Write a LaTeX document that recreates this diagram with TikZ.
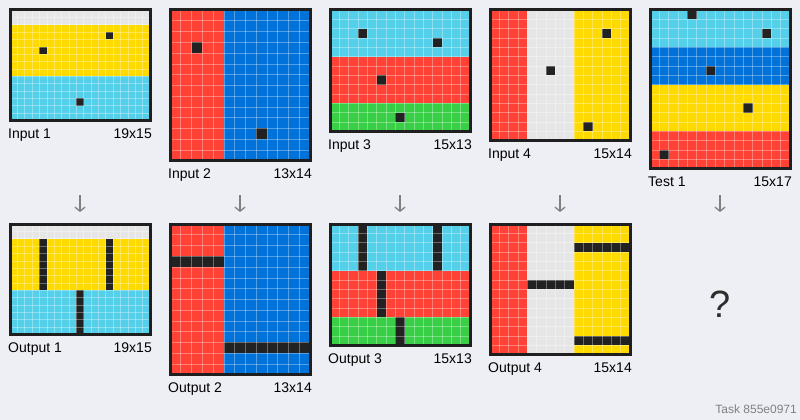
\documentclass[tikz,border=0pt]{standalone}
\usepackage{fontspec}
\setmainfont{Liberation Sans}
\usepackage{tikz}
\usetikzlibrary{arrows.meta}

\definecolor{pagebg}{HTML}{EEEEF5}
\definecolor{arcgray}{HTML}{E6E6E6}
\definecolor{arcyellow}{HTML}{FFDA00}
\definecolor{arccyan}{HTML}{55D0EB}
\definecolor{arcred}{HTML}{FF4136}
\definecolor{arcblue}{HTML}{0072D9}
\definecolor{arcgreen}{HTML}{38CF46}
\definecolor{arcblack}{HTML}{222222}

\begin{document}
\begin{tikzpicture}[x=1pt, y=-1pt,
    cellline/.style={white, opacity=0.32, line width=0.6pt},
    frame/.style={draw=arcblack!90!black, line width=3pt},
    lbl/.style={inner sep=0pt, font=\fontsize{14}{16}\selectfont},
    flow/.style={draw=gray, line width=1.3pt, -{Straight Barb[length=4pt,width=10pt]}}]
  \useasboundingbox[fill=pagebg] (0,0) rectangle (800,420);

  % Input 1
  \begin{scope}[shift={(10,10)}, x=7.3684pt, y=-7.3684pt]
    \fill[arcgray] (0,0) rectangle (19,2);
    \fill[arcyellow] (0,2) rectangle (19,9);
    \fill[arccyan] (0,9) rectangle (19,15);
    \fill[arcblack] (13,3) rectangle +(1,1);
    \fill[arcblack] (4,5) rectangle +(1,1);
    \fill[arcblack] (9,12) rectangle +(1,1);
    \foreach \i in {1,...,18} \draw[cellline] (\i,0) -- (\i,15);
    \foreach \j in {1,...,14} \draw[cellline] (0,\j) -- (19,\j);
    \draw[frame] (0,0) rectangle (19,15);
  \end{scope}
  \node[lbl, anchor=base west] (in1name) at (8,138.5) {Input 1};
  \node[lbl, anchor=base east] (in1size) at (152,138.5) {19x15};

  % Input 2
  \begin{scope}[shift={(170,10)}, x=10.769pt, y=-10.769pt]
    \fill[arcred] (0,0) rectangle (5,14);
    \fill[arcblue] (5,0) rectangle (13,14);
    \fill[arcblack] (2,3) rectangle +(1,1);
    \fill[arcblack] (8,11) rectangle +(1,1);
    \foreach \i in {1,...,12} \draw[cellline] (\i,0) -- (\i,14);
    \foreach \j in {1,...,13} \draw[cellline] (0,\j) -- (13,\j);
    \draw[frame] (0,0) rectangle (13,14);
  \end{scope}
  \node[lbl, anchor=base west] (in2name) at (168,178.8) {Input 2};
  \node[lbl, anchor=base east] (in2size) at (312,178.8) {13x14};

  % Input 3
  \begin{scope}[shift={(330,10)}, x=9.3333pt, y=-9.3333pt]
    \fill[arccyan] (0,0) rectangle (15,5);
    \fill[arcred] (0,5) rectangle (15,10);
    \fill[arcgreen] (0,10) rectangle (15,13);
    \fill[arcblack] (3,2) rectangle +(1,1);
    \fill[arcblack] (11,3) rectangle +(1,1);
    \fill[arcblack] (5,7) rectangle +(1,1);
    \fill[arcblack] (7,11) rectangle +(1,1);
    \foreach \i in {1,...,14} \draw[cellline] (\i,0) -- (\i,13);
    \foreach \j in {1,...,12} \draw[cellline] (0,\j) -- (15,\j);
    \draw[frame] (0,0) rectangle (15,13);
  \end{scope}
  \node[lbl, anchor=base west] (in3name) at (328,149.3) {Input 3};
  \node[lbl, anchor=base east] (in3size) at (472,149.3) {15x13};

  % Input 4
  \begin{scope}[shift={(490,10)}, x=9.3333pt, y=-9.3333pt]
    \fill[arcred] (0,0) rectangle (4,14);
    \fill[arcgray] (4,0) rectangle (9,14);
    \fill[arcyellow] (9,0) rectangle (15,14);
    \fill[arcblack] (12,2) rectangle +(1,1);
    \fill[arcblack] (6,6) rectangle +(1,1);
    \fill[arcblack] (10,12) rectangle +(1,1);
    \foreach \i in {1,...,14} \draw[cellline] (\i,0) -- (\i,14);
    \foreach \j in {1,...,13} \draw[cellline] (0,\j) -- (15,\j);
    \draw[frame] (0,0) rectangle (15,14);
  \end{scope}
  \node[lbl, anchor=base west] (in4name) at (488,158.7) {Input 4};
  \node[lbl, anchor=base east] (in4size) at (632,158.7) {15x14};

  % Test 1
  \begin{scope}[shift={(650,10)}, x=9.3333pt, y=-9.3333pt]
    \fill[arccyan] (0,0) rectangle (15,4);
    \fill[arcblue] (0,4) rectangle (15,8);
    \fill[arcyellow] (0,8) rectangle (15,13);
    \fill[arcred] (0,13) rectangle (15,17);
    \fill[arcblack] (4,0) rectangle +(1,1);
    \fill[arcblack] (12,2) rectangle +(1,1);
    \fill[arcblack] (6,6) rectangle +(1,1);
    \fill[arcblack] (10,10) rectangle +(1,1);
    \fill[arcblack] (1,15) rectangle +(1,1);
    \foreach \i in {1,...,14} \draw[cellline] (\i,0) -- (\i,17);
    \foreach \j in {1,...,16} \draw[cellline] (0,\j) -- (15,\j);
    \draw[frame] (0,0) rectangle (15,17);
  \end{scope}
  \node[lbl, anchor=base west] (testname) at (648,186.7) {Test 1};
  \node[lbl, anchor=base east] (testsize) at (792,186.7) {15x17};

  % arrows
  \foreach \n/\x in {1/80, 2/240, 3/400, 4/560, 5/720} {
    \coordinate (arr\n top) at (\x,195);
    \coordinate (arr\n bot) at (\x,212);
    \draw[flow] (arr\n top) -- (arr\n bot);
  }

  % Output 1
  \begin{scope}[shift={(10,224)}, x=7.3684pt, y=-7.3684pt]
    \fill[arcgray] (0,0) rectangle (19,2);
    \fill[arcyellow] (0,2) rectangle (19,9);
    \fill[arccyan] (0,9) rectangle (19,15);
    \fill[arcblack] (4,2) rectangle (5,9);
    \fill[arcblack] (13,2) rectangle (14,9);
    \fill[arcblack] (9,9) rectangle (10,15);
    \foreach \i in {1,...,18} \draw[cellline] (\i,0) -- (\i,15);
    \foreach \j in {1,...,14} \draw[cellline] (0,\j) -- (19,\j);
    \draw[frame] (0,0) rectangle (19,15);
  \end{scope}
  \node[lbl, anchor=base west] (out1name) at (8,352.5) {Output 1};
  \node[lbl, anchor=base east] (out1size) at (152,352.5) {19x15};

  % Output 2
  \begin{scope}[shift={(170,224)}, x=10.769pt, y=-10.769pt]
    \fill[arcred] (0,0) rectangle (5,14);
    \fill[arcblue] (5,0) rectangle (13,14);
    \fill[arcblack] (0,3) rectangle (5,4);
    \fill[arcblack] (5,11) rectangle (13,12);
    \foreach \i in {1,...,12} \draw[cellline] (\i,0) -- (\i,14);
    \foreach \j in {1,...,13} \draw[cellline] (0,\j) -- (13,\j);
    \draw[frame] (0,0) rectangle (13,14);
  \end{scope}
  \node[lbl, anchor=base west] (out2name) at (168,392.8) {Output 2};
  \node[lbl, anchor=base east] (out2size) at (312,392.8) {13x14};

  % Output 3
  \begin{scope}[shift={(330,224)}, x=9.3333pt, y=-9.3333pt]
    \fill[arccyan] (0,0) rectangle (15,5);
    \fill[arcred] (0,5) rectangle (15,10);
    \fill[arcgreen] (0,10) rectangle (15,13);
    \fill[arcblack] (3,0) rectangle (4,5);
    \fill[arcblack] (11,0) rectangle (12,5);
    \fill[arcblack] (5,5) rectangle (6,10);
    \fill[arcblack] (7,10) rectangle (8,13);
    \foreach \i in {1,...,14} \draw[cellline] (\i,0) -- (\i,13);
    \foreach \j in {1,...,12} \draw[cellline] (0,\j) -- (15,\j);
    \draw[frame] (0,0) rectangle (15,13);
  \end{scope}
  \node[lbl, anchor=base west] (out3name) at (328,363.3) {Output 3};
  \node[lbl, anchor=base east] (out3size) at (472,363.3) {15x13};

  % Output 4
  \begin{scope}[shift={(490,224)}, x=9.3333pt, y=-9.3333pt]
    \fill[arcred] (0,0) rectangle (4,14);
    \fill[arcgray] (4,0) rectangle (9,14);
    \fill[arcyellow] (9,0) rectangle (15,14);
    \fill[arcblack] (9,2) rectangle (15,3);
    \fill[arcblack] (4,6) rectangle (9,7);
    \fill[arcblack] (9,12) rectangle (15,13);
    \foreach \i in {1,...,14} \draw[cellline] (\i,0) -- (\i,14);
    \foreach \j in {1,...,13} \draw[cellline] (0,\j) -- (15,\j);
    \draw[frame] (0,0) rectangle (15,14);
  \end{scope}
  \node[lbl, anchor=base west] (out4name) at (488,372.7) {Output 4};
  \node[lbl, anchor=base east] (out4size) at (632,372.7) {15x14};

  % unknown test output
  \node[font=\fontsize{38}{40}\selectfont, text=arcblack!95!white] (query) at (720,304) {?};
  \node[anchor=base east, inner sep=0pt, font=\fontsize{12}{14}\selectfont, text=gray] (taskid) at (797,413) {Task 855e0971};
\end{tikzpicture}
\end{document}
